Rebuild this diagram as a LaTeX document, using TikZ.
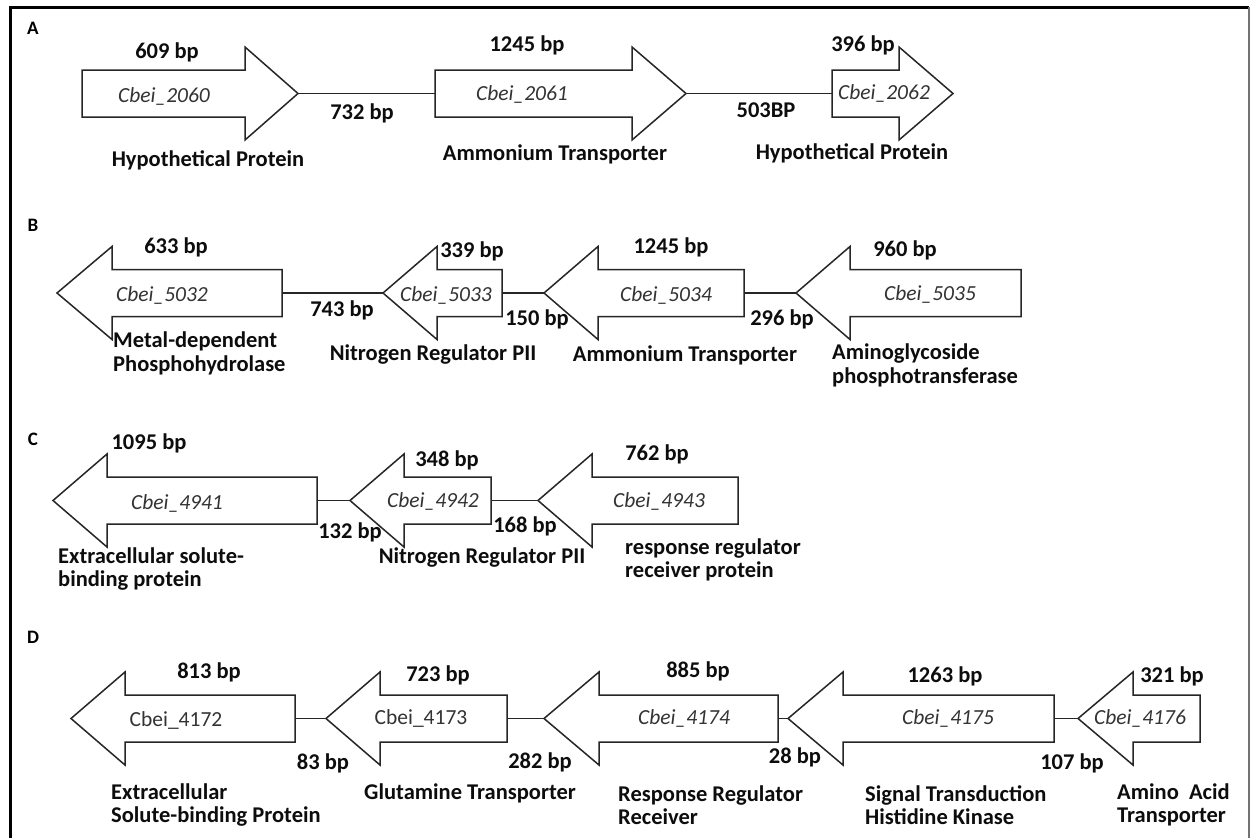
\documentclass[tikz,border=0pt]{standalone}
\usepackage{fontspec}
\setmainfont{Carlito}
\newcommand{\genearrow}[5]{%
  \coordinate (#1-tail) at (#2,#5);
  \coordinate (#1-tip) at (#4,#5);
  \draw[genebox] (#2,#5-23.5) -- (#3,#5-23.5) -- (#3,#5-46.5) -- (#4,#5)
    -- (#3,#5+46.5) -- (#3,#5+23.5) -- (#2,#5+23.5) -- cycle;}
\begin{document}
\begin{tikzpicture}[x=1pt,y=-1pt,
  genebox/.style={draw=black!85, line width=1.5pt, fill=white, line join=miter},
  link/.style={draw=black!85, line width=1.5pt},
  bp/.style={font=\fontsize{22.5}{24}\selectfont\bfseries, inner sep=0pt, text=black!95},
  desc/.style={font=\fontsize{22.5}{23.5}\selectfont\bfseries, inner sep=0pt, align=left, anchor=west, text=black!95},
  gid/.style={font=\fontsize{21.5}{24}\selectfont\itshape, inner sep=0pt, text=black!80},
  gup/.style={font=\fontsize{21.5}{24}\selectfont, inner sep=0pt, text=black!80},
  panel/.style={font=\fontsize{19}{22}\selectfont\bfseries, inner sep=0pt}]
\useasboundingbox (0,0) rectangle (1252,838);
\fill[white] (0,0) rectangle (1252,838);
% frame
\coordinate (fBL) at (10,838);
\coordinate (fTL) at (10,7);
\coordinate (fTR) at (1249,7);
\coordinate (fBR) at (1249,838);
\draw[line width=3pt, black] (fBL) -- (fTL) -- (fTR);
\draw[line width=1.5pt, black!55] (fTR) -- (fBR);

% ---------- Row A ----------
\genearrow{A1}{82}{245}{298}{93.5}
\genearrow{A2}{435}{632}{686}{93.5}
\genearrow{A3}{832}{899}{953}{93.5}
\draw[link] (A1-tip) -- (A2-tail);
\draw[link] (A2-tip) -- (A3-tail);
\node[panel] (pA) at (33,28) {A};
\node[bp] (a1) at (167,52) {609 bp};
\node[gid] (g2060) at (164,96) {Cbei\_2060};
\node[bp] (a12) at (362,113) {732 bp};
\node[bp] (d2060) at (208,160) {Hypothetical Protein};
\node[bp] (a2) at (527,45) {1245 bp};
\node[gid] (g2061) at (522,94) {Cbei\_2061};
\node[bp] (d2061) at (555,154) {Ammonium Transporter};
\node[bp] (a23) at (766,110) {503BP};
\node[bp] (a3) at (863,45) {396 bp};
\node[gid] (g2062) at (884,93) {Cbei\_2062};
\node[bp] (d2062) at (852,153) {Hypothetical Protein};

% ---------- Row B ----------
\genearrow{B1}{282}{112}{57}{293}
\genearrow{B2}{502}{437}{383}{293}
\genearrow{B3}{744}{598}{544}{293}
\genearrow{B4}{1021}{850}{796}{293}
\draw[link] (B1-tail) -- (B2-tip);
\draw[link] (B2-tail) -- (B3-tip);
\draw[link] (B3-tail) -- (B4-tip);
\node[panel] (pB) at (33,225) {B};
\node[bp] (b1) at (176,247) {633 bp};
\node[gid] (g5032) at (162,295) {Cbei\_5032};
\node[bp] (b12) at (342,310) {743 bp};
\node[desc] (d5032) at (113,353.5) {Metal-dependent\\Phosphohydrolase};
\node[bp] (b2) at (472,251) {339 bp};
\node[gid] (g5033) at (446,295) {Cbei\_5033};
\node[bp] (b23) at (537,319) {150 bp};
\node[bp] (d5033) at (433,355) {Nitrogen Regulator PII};
\node[bp] (b3) at (671,247) {1245 bp};
\node[gid] (g5034) at (666,295) {Cbei\_5034};
\node[bp] (b34) at (782,319) {296 bp};
\node[bp] (d5034) at (685,355) {Ammonium Transporter};
\node[bp] (b4) at (905,250) {960 bp};
\node[gid] (g5035) at (930,294) {Cbei\_5035};
\node[desc] (d5035) at (832,365.5) {Aminoglycoside\\phosphotransferase};

% ---------- Row C ----------
\genearrow{C1}{317}{107}{53}{500.5}
\genearrow{C2}{491}{404}{350}{500.5}
\genearrow{C3}{738}{592}{538}{500.5}
\draw[link] (C1-tail) -- (C2-tip);
\draw[link] (C2-tail) -- (C3-tip);
\node[panel] (pC) at (33,439) {C};
\node[bp] (c1) at (149,443) {1095 bp};
\node[gid] (g4941) at (177,503) {Cbei\_4941};
\node[bp] (c12) at (350,532) {132 bp};
\node[desc] (d4941) at (58,569) {Extracellular solute-\\binding protein};
\node[bp] (c2) at (447,460) {348 bp};
\node[gid] (g4942) at (433,501) {Cbei\_4942};
\node[bp] (c23) at (525,526) {168 bp};
\node[bp] (d4942) at (482,558) {Nitrogen Regulator PII};
\node[bp] (c3) at (657,454) {762 bp};
\node[gid] (g4943) at (659,501) {Cbei\_4943};
\node[desc] (d4943) at (625,560) {response regulator\\receiver protein};

% ---------- Row D ----------
\genearrow{D1}{295}{125}{71}{718.5}
\genearrow{D2}{507}{380}{326}{718.5}
\genearrow{D3}{778}{599}{544}{718.5}
\genearrow{D4}{1054}{843}{788}{718.5}
\genearrow{D5}{1200}{1133}{1078}{718.5}
\draw[link] (D1-tail) -- (D2-tip);
\draw[link] (D2-tail) -- (D3-tip);
\draw[link] (D3-tail) -- (D4-tip);
\draw[link] (D4-tail) -- (D5-tip);
\node[panel] (pD) at (33,637) {D};
\node[bp] (e1) at (209,672) {813 bp};
\node[gup] (g4172) at (176,720) {Cbei\_4172};
\node[bp] (e12) at (323,763) {83 bp};
\node[desc] (d4172) at (111,805) {Extracellular\\Solute-binding Protein};
\node[bp] (e2) at (438,675) {723 bp};
\node[gup] (g4173) at (421,718) {Cbei\_4173};
\node[bp] (e23) at (540,762) {282 bp};
\node[bp] (d4173) at (470,793) {Glutamine Transporter};
\node[bp] (e3) at (698,671) {885 bp};
\node[gid] (g4174) at (684,718) {Cbei\_4174};
\node[bp] (e34) at (795,757) {28 bp};
\node[desc] (d4174) at (618,805) {Response Regulator\\Receiver};
\node[bp] (e4) at (945,676) {1263 bp};
\node[gid] (g4175) at (948,718) {Cbei\_4175};
\node[bp] (e45) at (1072,763) {107 bp};
\node[desc] (d4175) at (865,805) {Signal Transduction\\Histidine Kinase};
\node[bp] (e5) at (1172,676) {321 bp};
\node[gid] (g4176) at (1140,718) {Cbei\_4176};
\node[desc] (d4176) at (1117,805) {Amino\ \ Acid\\Transporter};
\end{tikzpicture}
\end{document}
